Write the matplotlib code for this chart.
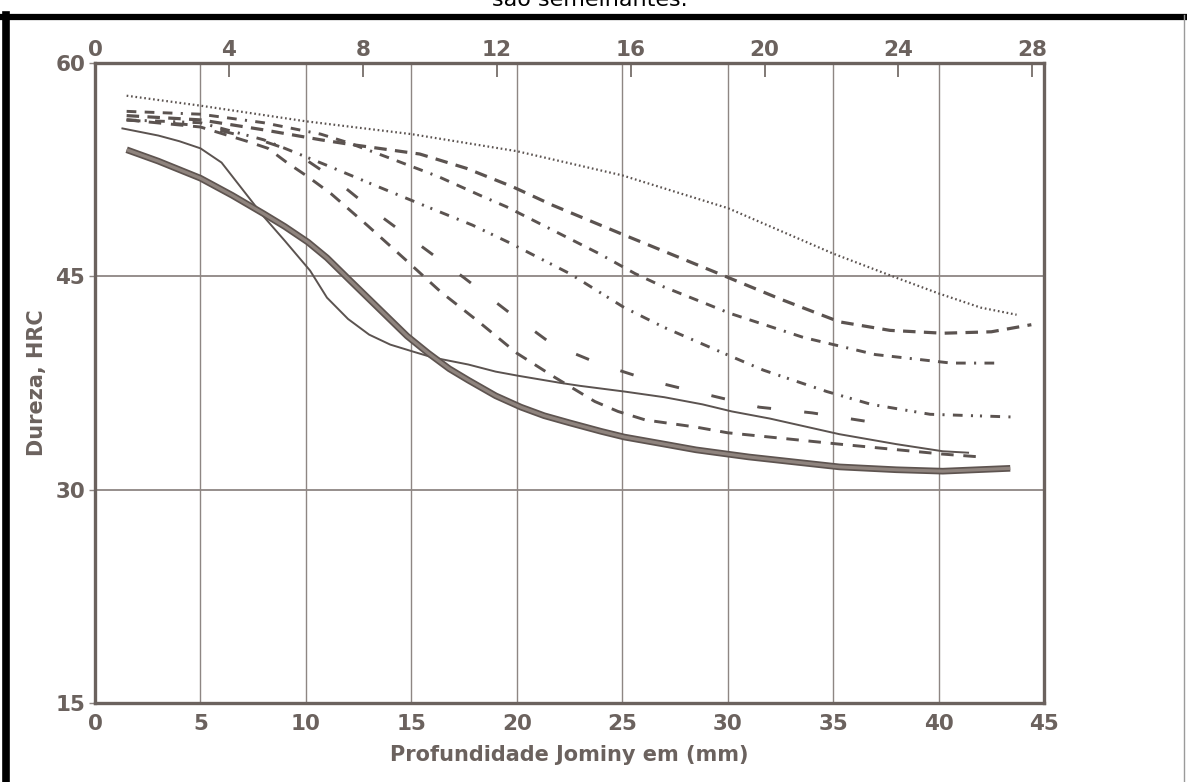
import numpy as np
import matplotlib
matplotlib.use("Agg")
import matplotlib.pyplot as plt
from matplotlib.lines import Line2D

plt.rcParams["lines.scale_dashes"] = False

# Jominy distance (mm) / hardness (HRC)
X_DOT = [1.5, 5, 10, 15, 20, 25, 30, 35, 38, 40, 42, 43.7]
Y_DOT = [57.7, 57.0, 55.9, 55.0, 53.8, 52.1, 49.8, 46.6, 44.9, 43.8, 42.8, 42.3]

X_A = [1.5, 5, 8, 10.7, 12, 15.4, 17.6, 19.8, 21.7, 25.1, 29.4, 32.5, 35.3, 37.7, 40.2, 42.5, 44.4]
Y_A = [56.3, 56.0, 55.3, 54.6, 54.3, 53.6, 52.6, 51.3, 50.0, 47.9, 45.3, 43.4, 41.8, 41.2, 41.0, 41.1, 41.6]

X_B = [1.5, 5, 8, 10.7, 12, 14, 16.3, 18.4, 19.5, 21.5, 23.9, 25.6, 26.9, 29.1, 30.1, 33.6, 37, 40.6, 42.9]
Y_B = [56.6, 56.4, 55.8, 55.0, 54.4, 53.3, 52.0, 50.6, 49.9, 48.4, 46.6, 45.2, 44.3, 43.0, 42.4, 40.7, 39.5, 38.9, 38.9]

X_C = [1.5, 5, 8, 11, 13.1, 15.9, 17.9, 19.6, 22.5, 25.1, 27, 29.8, 31.7, 34.7, 36.8, 39.6, 43.7]
Y_C = [56.0, 55.8, 54.6, 52.8, 51.5, 49.8, 48.6, 47.4, 45.2, 42.8, 41.4, 39.6, 38.4, 36.9, 36.0, 35.3, 35.1]

X_D = [1.5, 5, 8, 9.4, 10.2, 11.3, 13.3, 15.4, 17.5, 19.6, 21.7, 24, 26.5, 28.7, 31.5, 34, 36.6, 37.6]
Y_D = [56.0, 55.6, 54.5, 53.8, 53.0, 51.9, 49.5, 47.2, 44.9, 42.5, 40.2, 38.8, 37.6, 36.8, 35.8, 35.4, 34.8, 34.7]

X_F = [1.5, 5, 7.2, 8.2, 9.1, 10.1, 11.2, 12.9, 14.7, 16.4, 18.2, 20, 21.8, 23.7, 24.8, 26.1, 28.5, 30, 35.3, 40.2, 42.0]
Y_F = [56.0, 55.5, 54.5, 54.0, 53.0, 52.0, 50.8, 48.6, 46.2, 43.9, 41.8, 39.6, 37.9, 36.2, 35.5, 34.9, 34.4, 34.0, 33.2, 32.5, 32.3]

X_E = [1.3, 3, 4, 5.0, 6, 7, 8, 9, 10.2, 11, 12, 13, 14, 15.1, 16, 17.7, 19, 20.1, 22.1, 23,
       25.1, 27, 28.8, 30.2, 32, 35.3, 38, 40.2, 41.4]
Y_E = [55.4, 54.9, 54.5, 54.0, 53.0, 51.1, 49.2, 47.5, 45.4, 43.5, 42.0, 40.9, 40.2, 39.7, 39.3,
       38.8, 38.3, 38.0, 37.5, 37.3, 36.9, 36.5, 36.0, 35.5, 35.0, 33.9, 33.2, 32.7, 32.6]

X_G = [1.5, 3, 5.0, 6.5, 8.0, 9, 10.1, 11, 12.1, 13, 13.9, 14.8, 15.8, 16.8, 17.7, 19, 20.2,
       21.3, 22.5, 24, 25.1, 27, 28.5, 31, 35.3, 38, 40.2, 43.4]
Y_G = [53.9, 53.1, 51.9, 50.7, 49.4, 48.5, 47.4, 46.3, 44.7, 43.4, 42.1, 40.8, 39.6, 38.5,
       37.7, 36.6, 35.8, 35.2, 34.7, 34.1, 33.7, 33.2, 32.8, 32.3, 31.6, 31.4, 31.3, 31.5]

X_TICKS = [0, 5, 10, 15, 20, 25, 30, 35, 40, 45]
Y_TICKS = [15, 30, 45, 60]
TOP_TICKS = [0, 4, 8, 12, 16, 20, 24, 28]   # 1/16 in

INK = "#5b5350"
LABEL = "#6b625e"
GRID = "#8e8683"

fig = plt.figure(figsize=(11.87, 7.82), dpi=100)
ax = fig.add_axes([95/1187, 1-703/782, (1044-95)/1187, (703-63)/782])

ax.set_xlim(0, 45)
ax.set_ylim(15, 60)

for v in [5, 10, 15, 20, 25, 30, 35, 40]:
    ax.axvline(v, color=GRID, lw=1.0, zorder=1)
for v in [30, 45]:
    ax.axhline(v, color=GRID, lw=1.3, zorder=1)

ax.plot(X_DOT, Y_DOT, color=INK, lw=1.6, ls=(0, (1.2, 2.0)), zorder=3)
ax.plot(X_A, Y_A, color=INK, lw=2.3, ls=(0, (9, 6)), zorder=3)
ax.plot(X_B, Y_B, color=INK, lw=2.1, ls=(0, (7, 6, 7, 6, 7, 6, 1.5, 6)), zorder=3)
ax.plot(X_C, Y_C, color=INK, lw=2.1, ls=(0, (7, 6, 1.5, 6, 7, 6, 1.5, 5, 1.5, 6)), zorder=3)
ax.plot(X_D, Y_D, color=INK, lw=2.1, ls=(0, (10, 24)), zorder=3)
ax.plot(X_F, Y_F, color=INK, lw=2.1, ls=(0, (9, 7)), zorder=3)
ax.plot(X_E, Y_E, color=INK, lw=1.4, zorder=4)
ax.plot(X_G, Y_G, color="#5e5450", lw=4.8, solid_capstyle="butt", zorder=5)
ax.plot(X_G, Y_G, color="#8f847e", lw=2.3, solid_capstyle="butt", zorder=6)

for s in ax.spines.values():
    s.set_color(LABEL)
    s.set_linewidth(2.4)

ax.set_xticks(X_TICKS)
ax.set_yticks(Y_TICKS)
ax.tick_params(axis="x", length=0, pad=8, labelsize=15.5, labelcolor=LABEL)
ax.tick_params(axis="y", length=4, width=1, color=GRID, pad=3, labelsize=15.5, labelcolor=LABEL)
for t in ax.get_xticklabels() + ax.get_yticklabels():
    t.set_fontweight("bold")

sec = ax.secondary_xaxis("top", functions=(lambda x: x / 1.5875, lambda x: x * 1.5875))
sec.set_xticks(TOP_TICKS)
sec.tick_params(direction="in", length=10, width=1.2, color=LABEL, pad=2,
                labelsize=15.5, labelcolor=LABEL)
for t in sec.get_xticklabels():
    t.set_fontweight("bold")
sec.spines["top"].set_visible(False)

ax.set_xlabel("Profundidade Jominy em (mm)", fontsize=15, fontweight="bold",
              color=LABEL, labelpad=8)
ax.set_ylabel("Dureza, HRC", fontsize=15, fontweight="bold", color=LABEL, labelpad=6)

# scanned page frame and cut-off caption
fig.add_artist(Line2D([0, 1], [1-17/782, 1-17/782], color="black", lw=4.5))
fig.add_artist(Line2D([6/1187, 6/1187], [0, 1-15/782], color="black", lw=5.5))
fig.add_artist(Line2D([1184/1187, 1184/1187], [0, 1-15/782], color="#9a9a9a", lw=1.0))
fig.text(0.497, 1.0, "são semelhantes.", ha="center", va="center", fontsize=16, color="black")

fig.savefig("out.png", dpi=100, facecolor="white")
